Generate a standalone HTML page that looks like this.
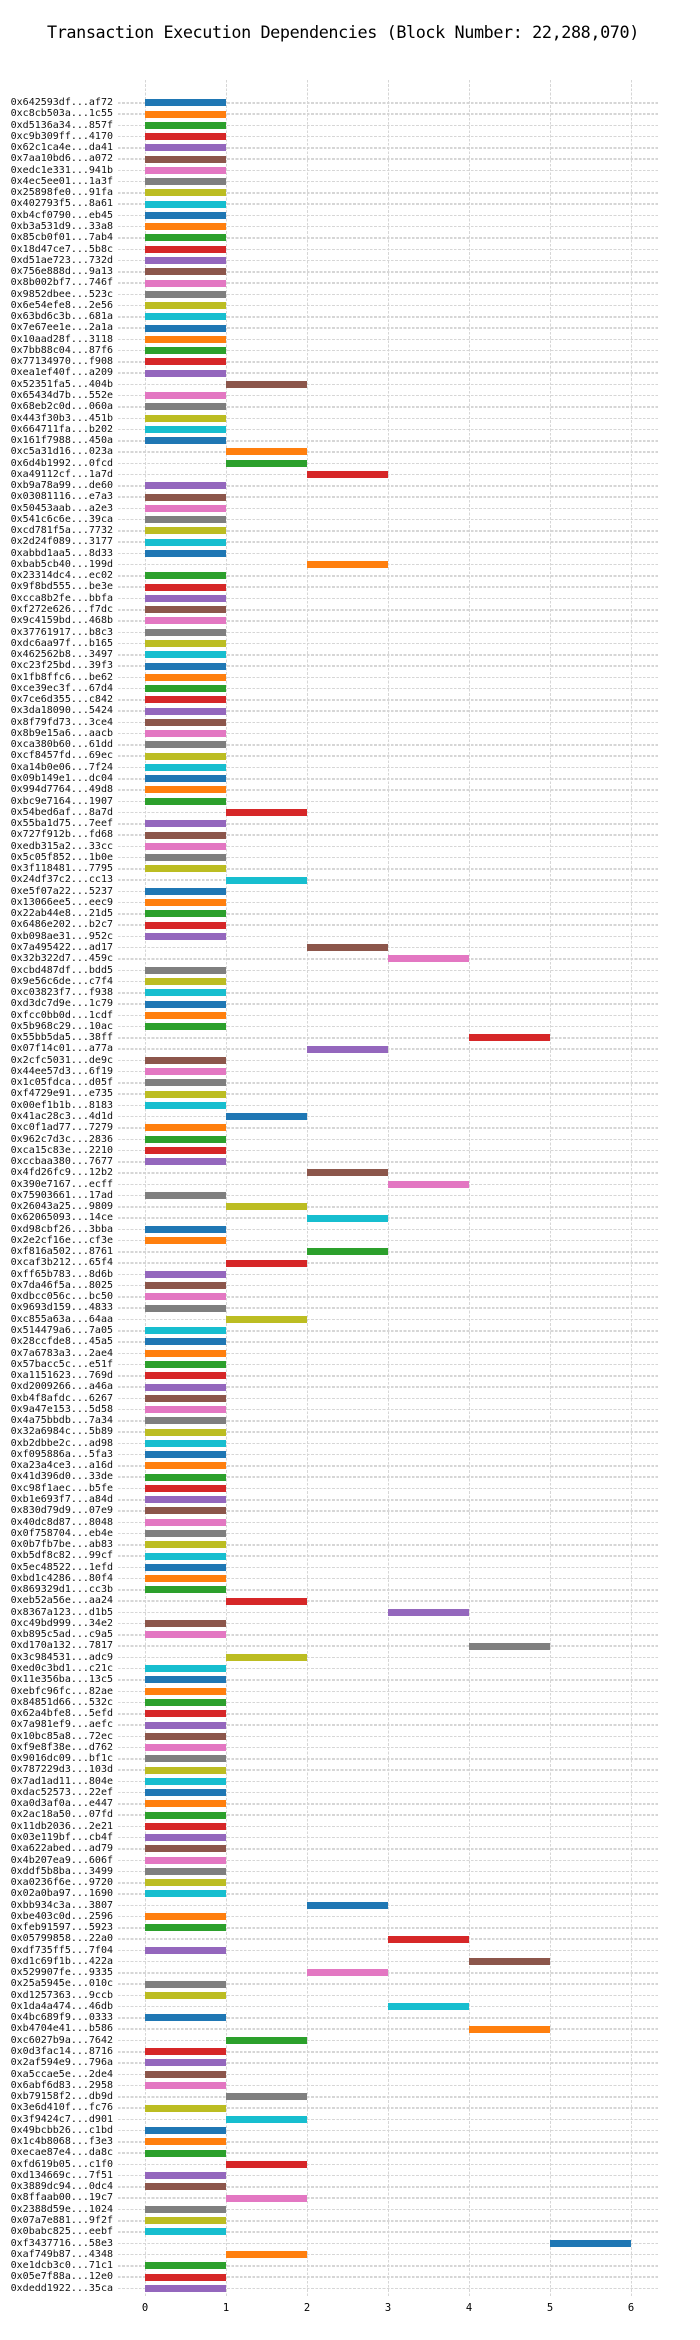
<!DOCTYPE html>
<html><head><meta charset="utf-8">
<style>
html,body{margin:0;padding:0;background:#fff;}
body{width:700px;height:2340px;position:relative;overflow:hidden;font-family:"DejaVu Sans Mono","Liberation Mono",monospace;}
.title{position:absolute;left:47px;top:22px;font-size:16.8px;letter-spacing:-0.4px;color:#000;white-space:nowrap;}
.v{position:absolute;top:80px;height:2217px;width:1.5px;background:repeating-linear-gradient(180deg,#d6d6d6 0 2.7px,transparent 2.7px 4.2px);}
.t{position:absolute;top:2302px;width:20px;margin-left:-10px;text-align:center;font-size:10.5px;color:#000;}
#rows{position:absolute;left:0;top:97.07px;width:700px;}
.r{position:relative;height:11.27px;}
.r::before{content:"";position:absolute;left:118px;width:540px;top:5px;height:1.5px;background:repeating-linear-gradient(90deg,#d6d6d6 0 2.7px,transparent 2.7px 4.2px);}
.r b{position:absolute;right:587px;top:0;font-weight:normal;font-size:10px;line-height:11.27px;color:#111;white-space:nowrap;}
.r i{position:absolute;left:145px;width:81px;top:2.2px;height:7px;}
.r.s1 i{left:226px}.r.s2 i{left:307px}.r.s3 i{left:388px}.r.s4 i{left:469px}.r.s5 i{left:550px}
.r:nth-child(10n+1) i{background:#1f77b4}
.r:nth-child(10n+2) i{background:#ff7f0e}
.r:nth-child(10n+3) i{background:#2ca02c}
.r:nth-child(10n+4) i{background:#d62728}
.r:nth-child(10n+5) i{background:#9467bd}
.r:nth-child(10n+6) i{background:#8c564b}
.r:nth-child(10n+7) i{background:#e377c2}
.r:nth-child(10n+8) i{background:#7f7f7f}
.r:nth-child(10n+9) i{background:#bcbd22}
.r:nth-child(10n+10) i{background:#17becf}
</style></head><body>
<div class="title">Transaction Execution Dependencies (Block Number: 22,288,070)</div>
<div class="v" style="left:144.5px"></div><div class="v" style="left:225.5px"></div><div class="v" style="left:306.5px"></div><div class="v" style="left:387.5px"></div><div class="v" style="left:468.5px"></div><div class="v" style="left:549.5px"></div><div class="v" style="left:630.5px"></div>
<div class="t" style="left:145px">0</div><div class="t" style="left:226px">1</div><div class="t" style="left:307px">2</div><div class="t" style="left:388px">3</div><div class="t" style="left:469px">4</div><div class="t" style="left:550px">5</div><div class="t" style="left:631px">6</div>
<div id="rows">
<div class="r"><b>0x642593df...af72</b><i></i></div>
<div class="r"><b>0xc8cb503a...1c55</b><i></i></div>
<div class="r"><b>0xd5136a34...857f</b><i></i></div>
<div class="r"><b>0xc9b309ff...4170</b><i></i></div>
<div class="r"><b>0x62c1ca4e...da41</b><i></i></div>
<div class="r"><b>0x7aa10bd6...a072</b><i></i></div>
<div class="r"><b>0xedc1e331...941b</b><i></i></div>
<div class="r"><b>0x4ec5ee01...1a3f</b><i></i></div>
<div class="r"><b>0x25898fe0...91fa</b><i></i></div>
<div class="r"><b>0x402793f5...8a61</b><i></i></div>
<div class="r"><b>0xb4cf0790...eb45</b><i></i></div>
<div class="r"><b>0xb3a531d9...33a8</b><i></i></div>
<div class="r"><b>0x85cb0f01...7ab4</b><i></i></div>
<div class="r"><b>0x18d47ce7...5b8c</b><i></i></div>
<div class="r"><b>0xd51ae723...732d</b><i></i></div>
<div class="r"><b>0x756e888d...9a13</b><i></i></div>
<div class="r"><b>0x8b002bf7...746f</b><i></i></div>
<div class="r"><b>0x9852dbee...523c</b><i></i></div>
<div class="r"><b>0x6e54efe8...2e56</b><i></i></div>
<div class="r"><b>0x63bd6c3b...681a</b><i></i></div>
<div class="r"><b>0x7e67ee1e...2a1a</b><i></i></div>
<div class="r"><b>0x10aad28f...3118</b><i></i></div>
<div class="r"><b>0x7bb88c04...87f6</b><i></i></div>
<div class="r"><b>0x77134970...f908</b><i></i></div>
<div class="r"><b>0xea1ef40f...a209</b><i></i></div>
<div class="r s1"><b>0x52351fa5...404b</b><i></i></div>
<div class="r"><b>0x65434d7b...552e</b><i></i></div>
<div class="r"><b>0x68eb2c0d...060a</b><i></i></div>
<div class="r"><b>0x443f30b3...451b</b><i></i></div>
<div class="r"><b>0x664711fa...b202</b><i></i></div>
<div class="r"><b>0x161f7988...450a</b><i></i></div>
<div class="r s1"><b>0xc5a31d16...023a</b><i></i></div>
<div class="r s1"><b>0x6d4b1992...0fcd</b><i></i></div>
<div class="r s2"><b>0xa49112cf...1a7d</b><i></i></div>
<div class="r"><b>0xb9a78a99...de60</b><i></i></div>
<div class="r"><b>0x03081116...e7a3</b><i></i></div>
<div class="r"><b>0x50453aab...a2e3</b><i></i></div>
<div class="r"><b>0x541c6c6e...39ca</b><i></i></div>
<div class="r"><b>0xcd781f5a...7732</b><i></i></div>
<div class="r"><b>0x2d24f089...3177</b><i></i></div>
<div class="r"><b>0xabbd1aa5...8d33</b><i></i></div>
<div class="r s2"><b>0xbab5cb40...199d</b><i></i></div>
<div class="r"><b>0x23314dc4...ec02</b><i></i></div>
<div class="r"><b>0x9f8bd555...be3e</b><i></i></div>
<div class="r"><b>0xcca8b2fe...bbfa</b><i></i></div>
<div class="r"><b>0xf272e626...f7dc</b><i></i></div>
<div class="r"><b>0x9c4159bd...468b</b><i></i></div>
<div class="r"><b>0x37761917...b8c3</b><i></i></div>
<div class="r"><b>0xdc6aa97f...b165</b><i></i></div>
<div class="r"><b>0x462562b8...3497</b><i></i></div>
<div class="r"><b>0xc23f25bd...39f3</b><i></i></div>
<div class="r"><b>0x1fb8ffc6...be62</b><i></i></div>
<div class="r"><b>0xce39ec3f...67d4</b><i></i></div>
<div class="r"><b>0x7ce6d355...c842</b><i></i></div>
<div class="r"><b>0x3da18090...5424</b><i></i></div>
<div class="r"><b>0x8f79fd73...3ce4</b><i></i></div>
<div class="r"><b>0x8b9e15a6...aacb</b><i></i></div>
<div class="r"><b>0xca380b60...61dd</b><i></i></div>
<div class="r"><b>0xcf8457fd...69ec</b><i></i></div>
<div class="r"><b>0xa14b0e06...7f24</b><i></i></div>
<div class="r"><b>0x09b149e1...dc04</b><i></i></div>
<div class="r"><b>0x994d7764...49d8</b><i></i></div>
<div class="r"><b>0xbc9e7164...1907</b><i></i></div>
<div class="r s1"><b>0x54bed6af...8a7d</b><i></i></div>
<div class="r"><b>0x55ba1d75...7eef</b><i></i></div>
<div class="r"><b>0x727f912b...fd68</b><i></i></div>
<div class="r"><b>0xedb315a2...33cc</b><i></i></div>
<div class="r"><b>0x5c05f852...1b0e</b><i></i></div>
<div class="r"><b>0x3f118481...7795</b><i></i></div>
<div class="r s1"><b>0x24df37c2...cc13</b><i></i></div>
<div class="r"><b>0xe5f07a22...5237</b><i></i></div>
<div class="r"><b>0x13066ee5...eec9</b><i></i></div>
<div class="r"><b>0x22ab44e8...21d5</b><i></i></div>
<div class="r"><b>0x6486e202...b2c7</b><i></i></div>
<div class="r"><b>0xb098ae31...952c</b><i></i></div>
<div class="r s2"><b>0x7a495422...ad17</b><i></i></div>
<div class="r s3"><b>0x32b322d7...459c</b><i></i></div>
<div class="r"><b>0xcbd487df...bdd5</b><i></i></div>
<div class="r"><b>0x9e56c6de...c7f4</b><i></i></div>
<div class="r"><b>0xc03823f7...f938</b><i></i></div>
<div class="r"><b>0xd3dc7d9e...1c79</b><i></i></div>
<div class="r"><b>0xfcc0bb0d...1cdf</b><i></i></div>
<div class="r"><b>0x5b968c29...10ac</b><i></i></div>
<div class="r s4"><b>0x55bb5da5...38ff</b><i></i></div>
<div class="r s2"><b>0x07f14c01...a77a</b><i></i></div>
<div class="r"><b>0x2cfc5031...de9c</b><i></i></div>
<div class="r"><b>0x44ee57d3...6f19</b><i></i></div>
<div class="r"><b>0x1c05fdca...d05f</b><i></i></div>
<div class="r"><b>0xf4729e91...e735</b><i></i></div>
<div class="r"><b>0x00ef1b1b...8183</b><i></i></div>
<div class="r s1"><b>0x41ac28c3...4d1d</b><i></i></div>
<div class="r"><b>0xc0f1ad77...7279</b><i></i></div>
<div class="r"><b>0x962c7d3c...2836</b><i></i></div>
<div class="r"><b>0xca15c83e...2210</b><i></i></div>
<div class="r"><b>0xccbaa380...7677</b><i></i></div>
<div class="r s2"><b>0x4fd26fc9...12b2</b><i></i></div>
<div class="r s3"><b>0x390e7167...ecff</b><i></i></div>
<div class="r"><b>0x75903661...17ad</b><i></i></div>
<div class="r s1"><b>0x26043a25...9809</b><i></i></div>
<div class="r s2"><b>0x62065093...14ce</b><i></i></div>
<div class="r"><b>0xd98cbf26...3bba</b><i></i></div>
<div class="r"><b>0x2e2cf16e...cf3e</b><i></i></div>
<div class="r s2"><b>0xf816a502...8761</b><i></i></div>
<div class="r s1"><b>0xcaf3b212...65f4</b><i></i></div>
<div class="r"><b>0xff65b783...8d6b</b><i></i></div>
<div class="r"><b>0x7da46f5a...8025</b><i></i></div>
<div class="r"><b>0xdbcc056c...bc50</b><i></i></div>
<div class="r"><b>0x9693d159...4833</b><i></i></div>
<div class="r s1"><b>0xc855a63a...64aa</b><i></i></div>
<div class="r"><b>0x514479a6...7a05</b><i></i></div>
<div class="r"><b>0x28ccfde8...45a5</b><i></i></div>
<div class="r"><b>0x7a6783a3...2ae4</b><i></i></div>
<div class="r"><b>0x57bacc5c...e51f</b><i></i></div>
<div class="r"><b>0xa1151623...769d</b><i></i></div>
<div class="r"><b>0xd2009266...a46a</b><i></i></div>
<div class="r"><b>0xb4f8afdc...6267</b><i></i></div>
<div class="r"><b>0x9a47e153...5d58</b><i></i></div>
<div class="r"><b>0x4a75bbdb...7a34</b><i></i></div>
<div class="r"><b>0x32a6984c...5b89</b><i></i></div>
<div class="r"><b>0xb2dbbe2c...ad98</b><i></i></div>
<div class="r"><b>0xf095886a...5fa3</b><i></i></div>
<div class="r"><b>0xa23a4ce3...a16d</b><i></i></div>
<div class="r"><b>0x41d396d0...33de</b><i></i></div>
<div class="r"><b>0xc98f1aec...b5fe</b><i></i></div>
<div class="r"><b>0xb1e693f7...a84d</b><i></i></div>
<div class="r"><b>0x830d79d9...07e9</b><i></i></div>
<div class="r"><b>0x40dc8d87...8048</b><i></i></div>
<div class="r"><b>0x0f758704...eb4e</b><i></i></div>
<div class="r"><b>0x0b7fb7be...ab83</b><i></i></div>
<div class="r"><b>0xb5df8c82...99cf</b><i></i></div>
<div class="r"><b>0x5ec48522...1efd</b><i></i></div>
<div class="r"><b>0xbd1c4286...80f4</b><i></i></div>
<div class="r"><b>0x869329d1...cc3b</b><i></i></div>
<div class="r s1"><b>0xeb52a56e...aa24</b><i></i></div>
<div class="r s3"><b>0x8367a123...d1b5</b><i></i></div>
<div class="r"><b>0xc49bd999...34e2</b><i></i></div>
<div class="r"><b>0xb895c5ad...c9a5</b><i></i></div>
<div class="r s4"><b>0xd170a132...7817</b><i></i></div>
<div class="r s1"><b>0x3c984531...adc9</b><i></i></div>
<div class="r"><b>0xed0c3bd1...c21c</b><i></i></div>
<div class="r"><b>0x11e356ba...13c5</b><i></i></div>
<div class="r"><b>0xebfc96fc...82ae</b><i></i></div>
<div class="r"><b>0x84851d66...532c</b><i></i></div>
<div class="r"><b>0x62a4bfe8...5efd</b><i></i></div>
<div class="r"><b>0x7a981ef9...aefc</b><i></i></div>
<div class="r"><b>0x10bc85a8...72ec</b><i></i></div>
<div class="r"><b>0xf9e8f38e...d762</b><i></i></div>
<div class="r"><b>0x9016dc09...bf1c</b><i></i></div>
<div class="r"><b>0x787229d3...103d</b><i></i></div>
<div class="r"><b>0x7ad1ad11...804e</b><i></i></div>
<div class="r"><b>0xdac52573...22ef</b><i></i></div>
<div class="r"><b>0xa0d3af0a...e447</b><i></i></div>
<div class="r"><b>0x2ac18a50...07fd</b><i></i></div>
<div class="r"><b>0x11db2036...2e21</b><i></i></div>
<div class="r"><b>0x03e119bf...cb4f</b><i></i></div>
<div class="r"><b>0xa622abed...ad79</b><i></i></div>
<div class="r"><b>0x4b207ea9...606f</b><i></i></div>
<div class="r"><b>0xddf5b8ba...3499</b><i></i></div>
<div class="r"><b>0xa0236f6e...9720</b><i></i></div>
<div class="r"><b>0x02a0ba97...1690</b><i></i></div>
<div class="r s2"><b>0xbb934c3a...3807</b><i></i></div>
<div class="r"><b>0xbe403c0d...2596</b><i></i></div>
<div class="r"><b>0xfeb91597...5923</b><i></i></div>
<div class="r s3"><b>0x05799858...22a0</b><i></i></div>
<div class="r"><b>0xdf735ff5...7f04</b><i></i></div>
<div class="r s4"><b>0xd1c69f1b...422a</b><i></i></div>
<div class="r s2"><b>0x529907fe...9335</b><i></i></div>
<div class="r"><b>0x25a5945e...010c</b><i></i></div>
<div class="r"><b>0xd1257363...9ccb</b><i></i></div>
<div class="r s3"><b>0x1da4a474...46db</b><i></i></div>
<div class="r"><b>0x4bc689f9...0333</b><i></i></div>
<div class="r s4"><b>0xb4704e41...b586</b><i></i></div>
<div class="r s1"><b>0xc6027b9a...7642</b><i></i></div>
<div class="r"><b>0x0d3fac14...8716</b><i></i></div>
<div class="r"><b>0x2af594e9...796a</b><i></i></div>
<div class="r"><b>0xa5ccae5e...2de4</b><i></i></div>
<div class="r"><b>0x6abf6d83...2958</b><i></i></div>
<div class="r s1"><b>0xb79158f2...db9d</b><i></i></div>
<div class="r"><b>0x3e6d410f...fc76</b><i></i></div>
<div class="r s1"><b>0x3f9424c7...d901</b><i></i></div>
<div class="r"><b>0x49bcbb26...c1bd</b><i></i></div>
<div class="r"><b>0x1c4b8068...f3e3</b><i></i></div>
<div class="r"><b>0xecae87e4...da8c</b><i></i></div>
<div class="r s1"><b>0xfd619b05...c1f0</b><i></i></div>
<div class="r"><b>0xd134669c...7f51</b><i></i></div>
<div class="r"><b>0x3889dc94...0dc4</b><i></i></div>
<div class="r s1"><b>0x8ffaab00...19c7</b><i></i></div>
<div class="r"><b>0x2388d59e...1024</b><i></i></div>
<div class="r"><b>0x07a7e881...9f2f</b><i></i></div>
<div class="r"><b>0x0babc825...eebf</b><i></i></div>
<div class="r s5"><b>0xf3437716...58e3</b><i></i></div>
<div class="r s1"><b>0xaf749b87...4348</b><i></i></div>
<div class="r"><b>0xe1dcb3c0...71c1</b><i></i></div>
<div class="r"><b>0x05e7f88a...12e0</b><i></i></div>
<div class="r"><b>0xdedd1922...35ca</b><i></i></div>
</div>
</body></html>
